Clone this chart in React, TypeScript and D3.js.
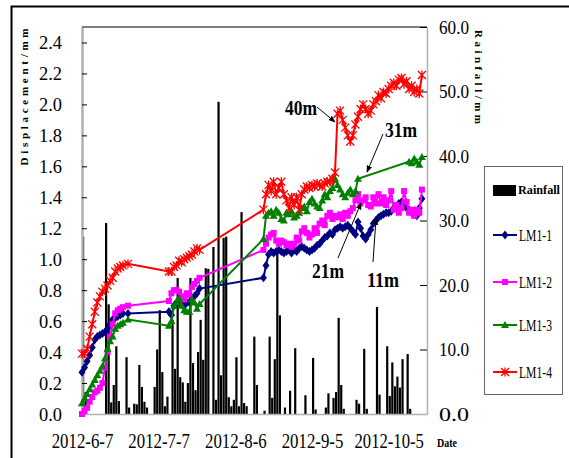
import { useEffect, useRef } from "react";
import * as d3 from "d3";

// day offsets are counted from 2012-6-7
const startDate = new Date(2012, 5, 7);
const endDate = new Date(2012, 9, 20);
const dateTicks = ["2012-6-7", "2012-7-7", "2012-8-6", "2012-9-5", "2012-10-5"];
const dispTicks = [0, 0.2, 0.4, 0.6, 0.8, 1.0, 1.2, 1.4, 1.6, 1.8, 2.0, 2.2, 2.4];
const rainTicks = [0, 10, 20, 30, 40, 50, 60];

// [day, mm]
const rainfall = [
    [0, 27.5], [1, 3.4], [9, 29.6], [10, 17], [11, 1.8], [12, 4.5], [13, 10.5], [14, 2],
    [17, 8.8], [18, 1], [20, 1.6], [21, 1.5], [22, 7.6], [23, 4.2], [24, 1.9], [25, 1],
    [28, 4.2], [29, 10], [30, 16.1], [31, 6.5], [32, 1.2], [33, 2.7], [35, 14.6], [36, 7],
    [37, 21.1], [38, 5.7], [39, 4.9], [40, 1.9], [41, 4.8], [42, 21.1], [43, 7.9], [44, 3.7],
    [45, 9.6], [46, 14.6], [47, 8.4], [48, 22.6], [49, 22.5], [51, 25.9], [52, 2.2], [53, 48.4],
    [54, 6], [55, 27.3], [56, 27.5], [57, 2.6], [58, 1.2], [59, 2.2], [60, 8.8], [61, 1.2],
    [62, 31.3], [63, 1.7], [64, 1.2], [67, 12], [68, 4.5], [71, 0.5], [73, 12], [74, 2.5],
    [75, 8.5], [76, 25.4], [77, 15.3], [79, 1], [81, 3.6], [83, 10.2], [87, 2.9], [90, 8.7],
    [91, 0.7], [95, 1], [96, 3.2], [98, 2.5], [99, 3.4], [100, 14.9], [101, 4.5], [102, 0.8],
    [107, 2.2], [108, 1.6], [110, 10.1], [111, 0.8], [115, 16.6], [116, 3], [119, 10.5], [120, 2.8],
    [121, 8], [122, 4.3], [123, 5.8], [124, 4.1], [125, 8.5], [127, 9.3], [128, 0.8]
];

const earlyDays = [0, 1, 2, 3, 4, 5, 6, 7, 8, 9, 10, 11, 12, 13, 14, 15, 16, 18];
const midDays = [34, 35, 36, 37, 38, 39, 40, 41, 42, 43, 44, 45, 46];
const lateDays = d3.range(71, 134);
const allDays = [...earlyDays, ...midDays, ...lateDays];
const lm13Days = [...earlyDays, ...midDays, ...d3.range(71, 109), ...d3.range(128, 134)];

const lm11 = [
    0.27, 0.30, 0.34, 0.38, 0.43, 0.48, 0.50, 0.51, 0.52, 0.53, 0.55, 0.58, 0.61, 0.62, 0.63, 0.64, 0.65, 0.65,
    0.66, 0.64, 0.70, 0.72, 0.72, 0.71, 0.70, 0.72, 0.72, 0.75, 0.76, 0.78, 0.81,
    0.88, 0.96, 1.03, 1.05, 1.04, 1.05, 1.06, 1.05, 1.04, 1.05,
    1.06, 1.04, 1.06, 1.05, 1.07, 1.08, 1.07, 1.06, 1.05, 1.06,
    1.07, 1.09, 1.10, 1.12, 1.14, 1.15, 1.17, 1.16, 1.19, 1.20,
    1.21, 1.20, 1.21, 1.22, 1.20, 1.18, 1.16, 1.24, 1.20, 1.15,
    1.13, 1.16, 1.19, 1.23, 1.25, 1.27, 1.28, 1.29, 1.30, 1.30,
    1.31, 1.33, 1.34, 1.36, 1.37, 1.35, 1.33, 1.32, 1.30, 1.29,
    1.28, 1.33, 1.39
];
const lm12 = [
    0.00, 0.02, 0.04, 0.08, 0.11, 0.14, 0.15, 0.17, 0.20, 0.30, 0.40, 0.50, 0.58, 0.65, 0.67, 0.68, 0.69, 0.70,
    0.73, 0.78, 0.80, 0.80, 0.79, 0.76, 0.74, 0.78, 0.77, 0.82, 0.84, 0.86, 0.88,
    1.06, 1.10, 1.14, 1.16, 1.17, 1.12, 1.10, 1.12, 1.11, 1.09,
    1.10, 1.08, 1.10, 1.14, 1.12, 1.18, 1.20, 1.17, 1.14, 1.16,
    1.20, 1.17, 1.23, 1.25, 1.22, 1.28, 1.30, 1.26, 1.28, 1.27,
    1.29, 1.26, 1.30, 1.28, 1.31, 1.33, 1.38, 1.42, 1.36, 1.38,
    1.40, 1.35, 1.34, 1.40, 1.36, 1.42, 1.36, 1.40, 1.35, 1.38,
    1.44, 1.32, 1.35, 1.30, 1.33, 1.44, 1.37, 1.30, 1.32, 1.28,
    1.32, 1.30, 1.45
];
const lm13 = [
    0.07, 0.10, 0.13, 0.16, 0.19, 0.22, 0.25, 0.28, 0.31, 0.36, 0.42, 0.47, 0.50, 0.55, 0.57, 0.58, 0.59, 0.61,
    0.57, 0.60, 0.70, 0.72, 0.75, 0.70, 0.67, 0.66, 0.66, 0.74, 0.72, 0.68, 0.71,
    1.13, 1.28, 1.30, 1.31, 1.28, 1.32, 1.30, 1.26, 1.25, 1.30,
    1.29, 1.31, 1.27, 1.28, 1.30, 1.33, 1.34, 1.31, 1.37, 1.39,
    1.36, 1.34, 1.33, 1.38, 1.42, 1.40, 1.44, 1.46, 1.52, 1.48,
    1.45, 1.42, 1.40, 1.43, 1.45, 1.42, 1.44, 1.52,
    1.63, 1.62, 1.65, 1.63, 1.61, 1.66
];
const lm14 = [
    0.39, 0.39, 0.42, 0.50, 0.58, 0.66, 0.72, 0.76, 0.79, 0.81, 0.83, 0.86, 0.88, 0.92, 0.94, 0.95, 0.96, 0.97,
    0.92, 0.92, 0.95, 0.96, 0.99, 0.98, 1.00, 1.01, 1.02, 1.03, 1.05, 1.07, 1.06,
    1.32, 1.42, 1.48, 1.44, 1.50, 1.42, 1.46, 1.50, 1.42, 1.38,
    1.33, 1.40, 1.35, 1.40, 1.32, 1.42, 1.45, 1.47, 1.46, 1.48,
    1.47, 1.49, 1.48, 1.47, 1.49, 1.50, 1.50, 1.52, 1.56, 1.94,
    1.96, 1.90, 1.85, 1.80, 1.76, 1.80, 1.87, 1.92, 1.97, 2.00,
    1.97, 1.94, 1.96, 2.00, 2.02, 2.06, 2.04, 2.08, 2.07, 2.10,
    2.12, 2.14, 2.12, 2.16, 2.17, 2.13, 2.15, 2.10, 2.12, 2.08,
    2.10, 2.07, 2.19
];

const seriesList = [
    { name: "LM1-1", days: allDays, values: lm11, color: "#000080", shape: "diamond" },
    { name: "LM1-2", days: allDays, values: lm12, color: "#ff00ff", shape: "square" },
    { name: "LM1-3", days: lm13Days, values: lm13, color: "#008000", shape: "triangle" },
    { name: "LM1-4", days: allDays, values: lm14, color: "#ff0000", shape: "star" }
];

const notes = [
    { label: "40m", x: 285, y: 115, from: [317, 107], to: [335, 122] },
    { label: "31m", x: 385, y: 137, from: [383, 134], to: [367, 172] },
    { label: "21m", x: 312, y: 278, from: [338, 258], to: [361, 203] },
    { label: "11m", x: 367, y: 287, from: [373, 262], to: [376, 219] }
];

const FONT = "'Liberation Serif', 'DejaVu Serif', serif";

const drawMarker = (g, shape, cx, cy, color) => {
    if (shape === "diamond") {
        g.append("path")
            .attr("d", `M${cx},${cy - 4.5}L${cx + 3.5},${cy}L${cx},${cy + 4.5}L${cx - 3.5},${cy}Z`)
            .attr("fill", color);
    } else if (shape === "square") {
        g.append("rect")
            .attr("x", cx - 3).attr("y", cy - 3)
            .attr("width", 6).attr("height", 6)
            .attr("fill", color);
    } else if (shape === "triangle") {
        g.append("path")
            .attr("d", `M${cx},${cy - 4}L${cx + 4},${cy + 3}L${cx - 4},${cy + 3}Z`)
            .attr("fill", color);
    } else {
        g.append("path")
            .attr("d", `M${cx - 4},${cy - 4}L${cx + 4},${cy + 4}M${cx - 4},${cy + 4}L${cx + 4},${cy - 4}M${cx},${cy - 4.5}L${cx},${cy + 4.5}`)
            .attr("stroke", color)
            .attr("stroke-width", 1.3)
            .attr("fill", "none");
    }
};

const App = () => {
    const ref = useRef(null);

    useEffect(() => {
        const svg = d3.select(ref.current);
        svg.selectAll("*").remove();

        const left = 82, right = 427, top = 27, bottom = 414;
        const dayDate = (d) => d3.timeDay.offset(startDate, d);
        const x = d3.scaleTime().domain([startDate, endDate]).range([left, right]);
        const yL = d3.scaleLinear().domain([0, 2.5]).range([bottom, top]);
        const yR = d3.scaleLinear().domain([0, 60]).range([bottom, top]);
        const parse = d3.timeParse("%Y-%m-%d");

        svg.append("rect").attr("width", 569).attr("height", 458).attr("fill", "#fff");
        // outer frame
        svg.append("rect")
            .attr("x", 11.5).attr("y", 6.5)
            .attr("width", 700).attr("height", 600)
            .attr("fill", "none").attr("stroke", "#000").attr("stroke-width", 2);

        const defs = svg.append("defs");
        defs.append("marker")
            .attr("id", "arrow")
            .attr("viewBox", "0 0 10 10")
            .attr("refX", 9).attr("refY", 5)
            .attr("markerWidth", 7).attr("markerHeight", 7)
            .attr("orient", "auto")
            .append("path")
            .attr("d", "M0,1L10,5L0,9Z")
            .attr("fill", "#000");

        // rainfall bars
        svg.append("g")
            .selectAll("rect")
            .data(rainfall)
            .enter()
            .append("rect")
            .attr("x", (d) => x(dayDate(d[0])))
            .attr("y", (d) => yR(d[1]))
            .attr("width", 2.2)
            .attr("height", (d) => bottom - yR(d[1]))
            .attr("fill", "#000");

        // axes
        const axL = svg.append("g")
            .attr("transform", `translate(${left},0)`)
            .call(d3.axisLeft(yL).tickValues(dispTicks).tickSizeInner(-5).tickSizeOuter(0)
                .tickPadding(20).tickFormat(d3.format(".1f")));
        const axR = svg.append("g")
            .attr("transform", `translate(${right},0)`)
            .call(d3.axisRight(yR).tickValues(rainTicks).tickSizeInner(-7).tickSizeOuter(0)
                .tickPadding(12).tickFormat(d3.format(".1f")));
        const axB = svg.append("g")
            .attr("transform", `translate(0,${bottom})`)
            .call(d3.axisBottom(x).tickValues(dateTicks.map(parse)).tickSize(0).tickPadding(20)
                .tickFormat((d, i) => dateTicks[i]));

        [axL, axR, axB].forEach((ax) => {
            ax.select(".domain").attr("stroke", "#b0b0b0").attr("stroke-width", 1.5);
            ax.selectAll(".tick line").attr("stroke", "#000");
        });
        axL.select(".domain").attr("stroke-width", 2.5);
        axL.selectAll("text")
            .attr("font-family", FONT).attr("font-size", 19)
            .attr("textLength", 23).attr("lengthAdjust", "spacingAndGlyphs").attr("fill", "#000");
        axR.selectAll("text")
            .attr("font-family", FONT).attr("font-size", 19)
            .attr("textLength", 30).attr("lengthAdjust", "spacingAndGlyphs").attr("fill", "#000");
        axB.selectAll("text")
            .attr("font-family", FONT).attr("font-size", 20)
            .attr("textLength", (d, i) => dateTicks[i].length * 7.7)
            .attr("lengthAdjust", "spacingAndGlyphs").attr("fill", "#000");

        svg.append("line")
            .attr("x1", left).attr("x2", right).attr("y1", top).attr("y2", top)
            .attr("stroke", "#000").attr("stroke-width", 1);

        // displacement series
        seriesList.forEach((s) => {
            const pts = s.days.map((d, i) => [x(dayDate(d)), yL(s.values[i])]);
            svg.append("path")
                .datum(pts)
                .attr("fill", "none")
                .attr("stroke", s.color)
                .attr("stroke-width", 2)
                .attr("d", d3.line());
            const g = svg.append("g");
            pts.forEach((p) => drawMarker(g, s.shape, p[0], p[1], s.color));
        });

        // annotations
        notes.forEach((n) => {
            svg.append("text")
                .attr("x", n.x).attr("y", n.y)
                .attr("font-family", FONT).attr("font-weight", "bold").attr("font-size", 22)
                .attr("textLength", 32).attr("lengthAdjust", "spacingAndGlyphs")
                .text(n.label);
            svg.append("line")
                .attr("x1", n.from[0]).attr("y1", n.from[1])
                .attr("x2", n.to[0]).attr("y2", n.to[1])
                .attr("stroke", "#000").attr("stroke-width", 1)
                .attr("marker-end", "url(#arrow)");
        });

        // axis titles
        svg.append("text")
            .attr("transform", "translate(24,97) rotate(-90)")
            .attr("text-anchor", "middle").attr("dominant-baseline", "central")
            .attr("font-family", FONT).attr("font-weight", "bold").attr("font-size", 11)
            .attr("textLength", 137).attr("lengthAdjust", "spacing")
            .text("Displacement/mm");
        svg.append("text")
            .attr("transform", "translate(479,77) rotate(90)")
            .attr("text-anchor", "middle").attr("dominant-baseline", "central")
            .attr("font-family", FONT).attr("font-weight", "bold").attr("font-size", 11)
            .attr("textLength", 94).attr("lengthAdjust", "spacing")
            .text("Rainfall/mm");
        svg.append("text")
            .attr("x", 437).attr("y", 447)
            .attr("font-family", FONT).attr("font-weight", "bold").attr("font-size", 12)
            .attr("textLength", 20).attr("lengthAdjust", "spacingAndGlyphs")
            .text("Date");

        // legend
        const lg = svg.append("g");
        lg.append("rect")
            .attr("x", 484.5).attr("y", 166.5).attr("width", 78).attr("height", 228)
            .attr("fill", "#fff").attr("stroke", "#666").attr("stroke-width", 1);
        lg.append("rect")
            .attr("x", 493).attr("y", 185).attr("width", 23).attr("height", 11).attr("fill", "#000");
        lg.append("text")
            .attr("x", 518).attr("y", 190).attr("dominant-baseline", "central")
            .attr("font-family", FONT).attr("font-weight", "bold").attr("font-size", 12)
            .attr("textLength", 42).attr("lengthAdjust", "spacingAndGlyphs")
            .text("Rainfall");
        const legendY = [235, 282, 325, 372];
        seriesList.forEach((s, i) => {
            const ly = legendY[i];
            lg.append("line")
                .attr("x1", 493).attr("x2", 517).attr("y1", ly).attr("y2", ly)
                .attr("stroke", s.color).attr("stroke-width", 2);
            drawMarker(lg, s.shape, 505, ly, s.color);
            lg.append("text")
                .attr("x", 519).attr("y", ly).attr("dominant-baseline", "central")
                .attr("font-family", FONT).attr("font-size", 17)
                .attr("textLength", 33).attr("lengthAdjust", "spacingAndGlyphs")
                .text(s.name);
        });
    });

    return (
        <svg
            ref={ref}
            width={569}
            height={458}
            style={{ position: "absolute", left: 0, top: 0 }}
        />
    );
};

export default App;
